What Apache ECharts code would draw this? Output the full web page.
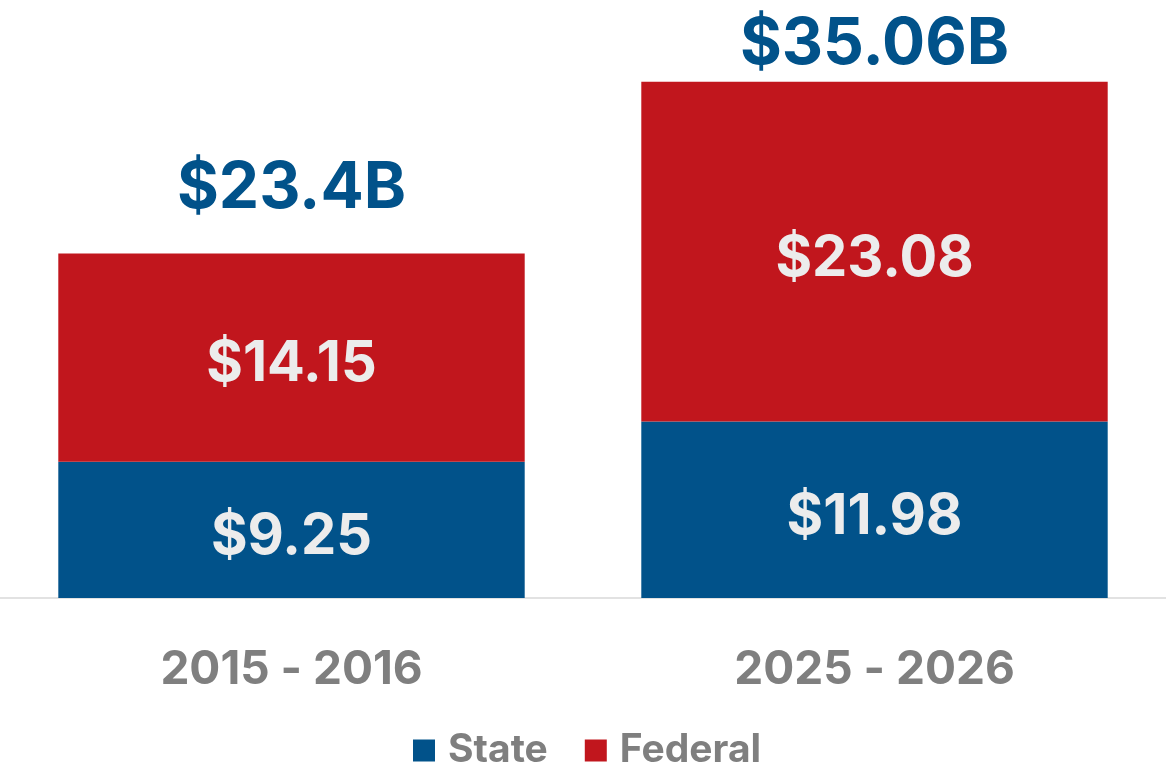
<!DOCTYPE html>
<html>
<head>
<meta charset="utf-8">
<script src="https://cdn.jsdelivr.net/npm/echarts@6/dist/echarts.min.js"></script>
<style>
  html, body { margin: 0; padding: 0; background: #fff; }
  #chart { width: 1166px; height: 767px; }
</style>
</head>
<body>
<div id="chart"></div>
<script>
var years = ["2015 - 2016", "2025 - 2026"];
var stateValues = [9.25, 11.98];
var federalValues = [14.15, 23.08];
var totalLabels = ["$23.4B", "$35.06B"];

var theme = {
  blue: "#01528A",
  red: "#C1161D",
  gray: "#7F7F7F",
  inner: "#ECECEC",
  font: "Inter, 'Liberation Sans', Arial, sans-serif"
};

var chart = echarts.init(document.getElementById("chart"));

var innerLabel = {
  show: true,
  position: "inside",
  offset: [0, 7],
  color: theme.inner,
  fontFamily: theme.font,
  fontWeight: "bold",
  fontSize: 56,
  formatter: function (p) {
    return "$" + p.value.toFixed(2);
  }
};

var totalLabel = {
  show: true,
  position: "top",
  distance: 5,
  color: theme.blue,
  fontFamily: theme.font,
  fontWeight: "bold",
  fontSize: 64,
  formatter: function (p) {
    return totalLabels[p.dataIndex];
  }
};

var option = {
  animation: false,
  grid: { left: 0, right: 0, top: 9, bottom: 169 },
  legend: {
    data: ["State", "Federal"],
    top: 731,
    left: 413,
    padding: 0,
    icon: "rect",
    itemWidth: 22,
    itemHeight: 22,
    itemGap: 37,
    textStyle: {
      color: theme.gray,
      fontFamily: theme.font,
      fontWeight: "bold",
      fontSize: 39,
      padding: [0, 0, 0, 8]
    }
  },
  xAxis: {
    type: "category",
    data: years,
    axisTick: { show: false },
    axisLine: { lineStyle: { color: "#D9D9D9", width: 1.5 } },
    axisLabel: {
      margin: 49,
      color: theme.gray,
      fontFamily: theme.font,
      fontWeight: "bold",
      fontSize: 46
    }
  },
  yAxis: {
    type: "value",
    min: 0,
    max: 40,
    show: false,
    splitLine: { show: false }
  },
  series: [
    {
      name: "State",
      type: "bar",
      stack: "total",
      barWidth: "80%",
      itemStyle: { color: theme.blue },
      label: innerLabel,
      data: stateValues
    },
    {
      name: "Federal",
      type: "bar",
      stack: "total",
      barWidth: "80%",
      itemStyle: { color: theme.red },
      label: innerLabel,
      data: federalValues
    },
    {
      // total labels sit on top of the federal segment
      name: "Total",
      type: "bar",
      stack: "total",
      barWidth: "80%",
      silent: true,
      itemStyle: { color: "transparent" },
      label: totalLabel,
      data: [
        { value: 0, label: { distance: 33 } },
        { value: 0 }
      ]
    }
  ]
};

chart.setOption(option);
</script>
</body>
</html>
